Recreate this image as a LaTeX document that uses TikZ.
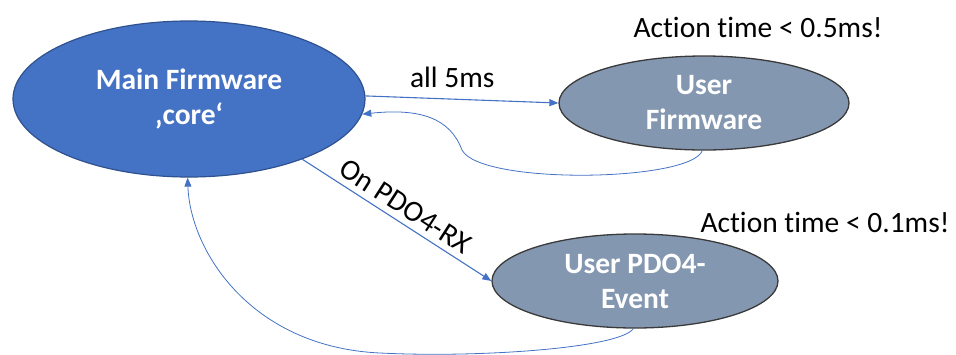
\documentclass[tikz,border=0pt]{standalone}
\usepackage{fontspec}
\setmainfont{Carlito}[Ligatures=CommonOff]
\usetikzlibrary{shapes.geometric,arrows.meta}
\definecolor{mainblue}{HTML}{4472C4}
\definecolor{mainedge}{HTML}{2F528F}
\definecolor{usergray}{HTML}{8497B0}
\definecolor{useredge}{HTML}{3A3A3A}
\begin{document}
\begin{tikzpicture}[x=1pt,y=-1pt,
  mainnode/.style={ellipse,draw=mainedge,fill=mainblue,line width=1.2pt,inner sep=0pt},
  usernode/.style={ellipse,draw=useredge,fill=usergray,line width=1.3pt,inner sep=0pt},
  intext/.style={text=white,font=\fontsize{29.5}{35}\selectfont\bfseries,align=center,inner sep=0pt},
  plain/.style={text=black,font=\fontsize{29.5}{35}\selectfont,inner sep=0pt},
  conn/.style={draw=mainblue,line width=1.1pt,-{Triangle[length=9pt,width=7pt]}},
  back/.style={draw=mainblue,line width=0.8pt,-{Triangle[length=9pt,width=7pt]}}]
\useasboundingbox (0,0) rectangle (956,354);
\node[mainnode,minimum width=352pt,minimum height=156pt] (main) at (189,99) {};
\node[intext] (maintxt) at (main.center) {Main Firmware\\‚core‘};
\node[usernode,minimum width=290pt,minimum height=94pt] (uf) at (704,103) {};
\node[intext] (uftxt) at (uf.center) {User\\Firmware};
\node[usernode,minimum width=286pt,minimum height=94pt] (pdo) at (635,281) {};
\node[intext] (pdotxt) at (pdo.center) {User PDO4-\\Event};
\node[plain] (t1) at (758,27) {Action time < 0.5ms!};
\node[plain] (t2) at (825,222) {Action time < 0.1ms!};
\draw[conn] (main.1) -- node[plain,above=11pt,pos=0.45] (l1) {all 5ms} (uf.west);
\draw[conn] (main.-28) -- node[plain,sloped,above=6pt,pos=0.5] (l2) {On PDO4-RX} (pdo.west);
\draw[back] (uf.-92) .. controls (690,182) and (480,185) .. (462,150)
  .. controls (450,118) and (420,108) .. (main.-5);
\draw[back] (pdo.-92) .. controls (620,348) and (480,358) .. (380,353)
  .. controls (250,347) and (190,250) .. (main.-91);
\end{tikzpicture}
\end{document}
